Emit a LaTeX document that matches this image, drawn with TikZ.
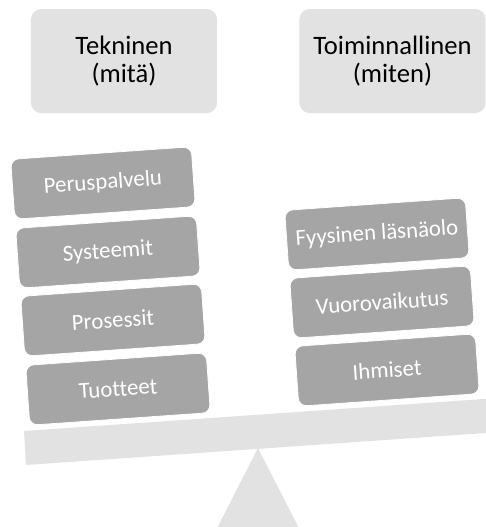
\documentclass[tikz,border=0pt]{standalone}
\usepackage{fontspec}
\setmainfont{Carlito}[Ligatures=CommonOff]
\usepackage{tikz}
\pgfdeclarelayer{bg}
\pgfsetlayers{bg,main}
\definecolor{panelgray}{HTML}{E2E2E2}
\definecolor{blockgray}{HTML}{A5A5A5}
\tikzset{
        header/.style={fill=panelgray, rounded corners=5pt, minimum width=93pt, minimum height=52pt,
                inner sep=0pt, align=center, font=\fontsize{13.3}{14.2}\selectfont},
        block/.style={fill=blockgray, draw=white, line width=0.4pt, rounded corners=4pt,
                minimum width=90.5pt, minimum height=30pt, inner sep=0pt, rotate=4,
                text=white, font=\fontsize{11.4}{13}\selectfont}
}

\begin{document}
\begin{tikzpicture}[x=0.5pt, y=-0.5pt]
        \useasboundingbox (0,0) rectangle (486,527);
        \clip (0,0) rectangle (486,527);
        \node (tek) [header] at (124, 61) {Tekninen\\(mitä)};
        \node (toi) [header] at (392.5, 61) {Toiminnallinen\\(miten)};
        \node (l1) [block] at (103, 183) {Peruspalvelu};
        \node (l2) [block] at (108, 252) {Systeemit};
        \node (l3) [block] at (113, 320) {Prosessit};
        \node (l4) [block] at (118, 389) {Tuotteet};
        \node (r1) [block] at (377, 234) {Fyysinen läsnäolo};
        \node (r2) [block] at (382, 302) {Vuorovaikutus};
        \node (r3) [block] at (387, 370) {Ihmiset};
        \begin{pgfonlayer}{bg}
                \fill [panelgray] (24,431) -- (26,465) -- (500,432) -- (498,398) -- cycle;
                \fill [panelgray] (258,448) -- (211,540) -- (305,540) -- cycle;
        \end{pgfonlayer}
\end{tikzpicture}
\end{document}
